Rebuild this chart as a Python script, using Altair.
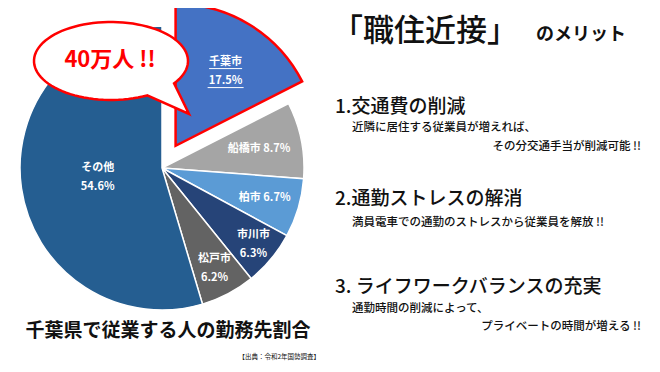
import math
import altair as alt
import numpy as np
import pandas as pd

# ---------------- data ----------------
categories = ["千葉市", "船橋市", "柏市", "市川市", "松戸市", "その他"]
shares = [17.5, 8.7, 6.7, 6.3, 6.2, 54.6]
colors = ["#4472C4", "#A5A5A5", "#5B9BD5", "#264478", "#636363", "#255E91"]
highlight = "千葉市"

bubble_text = "40万人 !!"
chart_title = "千葉県で従業する人の勤務先割合"
source_text = "【出典：令和2年国勢調査】"
heading_main = "「職住近接」"
heading_sub = "のメリット"
points = ["1.交通費の削減", "2.通勤ストレスの解消", "3. ライフワークバランスの充実"]
details_left = ["近隣に居住する従業員が増えれば、", "満員電車での通勤のストレスから従業員を解放 !!", "通勤時間の削減によって、"]
details_right = ["その分交通手当が削減可能 !!", "", "プライベートの時間が増える !!"]

# ---------------- layout ----------------
FONT = "Noto Sans CJK JP"
OX, OY = 8, 8                     # page margin
CX, CY = 162 - OX, 168 - OY       # pie centre
R = 142
EXPLODE = 26
LH = 19
label_sep = ["\n", " ", " ", "\n", "\n", "\n"]
label_r = [116, 99, 107, 119, 113, 65]
label_lines = [2, 1, 1, 2, 2, 2]
label_dx = [3, 0, 0, 0, 0, 0]
label_dy = [2.5, 0, 0, 0, 0, 0]

df = pd.DataFrame({"cat": categories, "share": shares})
df["end"] = df["share"].cumsum()
df["start"] = df["end"] - df["share"]
df["mid"] = (df["start"] + df["end"]) / 2
df["label"] = [f"{c}{s}{v}%" for c, s, v in zip(categories, label_sep, shares)]
df["r"] = label_r
df["lines"] = label_lines

theta_scale = alt.Scale(domain=[0, 100], range=[0, 2 * math.pi])
color_scale = alt.Scale(domain=categories, range=colors)

hl_idx = categories.index(highlight)
hl_mid = float(df.loc[df.cat == highlight, "mid"].iloc[0]) / 100 * 2 * math.pi
EX = CX + EXPLODE * math.sin(hl_mid)
EY = CY - EXPLODE * math.cos(hl_mid)

pie = alt.Chart(df).transform_filter(alt.datum.cat != highlight).mark_arc(
    outerRadius=R, stroke="white", strokeWidth=1.5
).encode(
    theta=alt.Theta("start:Q", scale=theta_scale, stack=None),
    theta2="end:Q",
    color=alt.Color("cat:N", scale=color_scale, legend=None),
    x=alt.value(CX), y=alt.value(CY),
)

pie_hl = alt.Chart(df).transform_filter(alt.datum.cat == highlight).mark_arc(
    outerRadius=R, stroke="#FF0000", strokeWidth=2.5, strokeJoin="miter"
).encode(
    theta=alt.Theta("start:Q", scale=theta_scale, stack=None),
    theta2="end:Q",
    color=alt.Color("cat:N", scale=color_scale, legend=None),
    x=alt.value(EX), y=alt.value(EY),
)

label_layers = []
for i, cat in enumerate(categories):
    dy = label_dy[i] - (LH / 2 if label_lines[i] == 2 else 0)
    label_layers.append(
        alt.Chart(df).transform_filter(alt.datum.cat == cat).mark_text(
            color="white", font=FONT, fontSize=11, fontWeight="bold",
            lineBreak="\n", lineHeight=LH, baseline="middle", align="center",
            dx=label_dx[i], dy=dy
        ).encode(
            theta=alt.Theta("mid:Q", scale=theta_scale, stack=None),
            radius=alt.Radius("r:Q", scale=None),
            text="label:N",
            x=alt.value(CX), y=alt.value(CY),
        )
    )

# underline for highlighted label
hl_r = float(df.loc[df.cat == highlight, "r"].iloc[0])
LX = CX + hl_r * math.sin(hl_mid) + label_dx[hl_idx]
LY = CY - hl_r * math.cos(hl_mid) + label_dy[hl_idx]
underlines = []
for dy, half in [(-LH / 2 + 6.5, 16.5), (LH / 2 + 6.5, 18)]:
    underlines.append(
        alt.Chart(pd.DataFrame({"a": [0]})).mark_rule(color="white", strokeWidth=1).encode(
            x=alt.value(LX - half), x2=alt.value(LX + half), y=alt.value(LY + dy)
        )
    )

# speech bubble as custom symbol path (unit coords, scaled by size)
S = 80.0
rx, ry = 77 / S, 39 / S
ts = np.deg2rad(np.linspace(62, 395, 90))
pts = [(rx * math.cos(t), ry * math.sin(t)) for t in ts]
tip = (78 / S, 53 / S)
path = "M" + " L".join(f"{x:.4f},{y:.4f}" for x, y in pts) + f" L{tip[0]:.4f},{tip[1]:.4f} Z"
BX, BY = 111 - OX, 61 - OY
bubble = alt.Chart(pd.DataFrame({"a": [0]})).mark_point(
    shape=path, size=(2 * S) ** 2, filled=True, fill="white", stroke="#FF0000",
    strokeWidth=2.5, opacity=1, fillOpacity=1, strokeOpacity=1
).encode(x=alt.value(BX), y=alt.value(BY))


def txt(s, x, y, size, weight="normal", align="left", color="#111111"):
    return alt.Chart(pd.DataFrame({"t": [s]})).mark_text(
        font=FONT, fontSize=size, fontWeight=weight, align=align,
        baseline="middle", color=color
    ).encode(text="t:N", x=alt.value(x - OX), y=alt.value(y - OY))


texts = [
    txt(bubble_text, 110, 60, 22, "bold", "center", "#FF0000"),
    txt(chart_title, 168, 331, 19, "bold", "center"),
    txt(source_text, 320, 357, 6.5, "normal", "right"),
    txt(heading_main, 332, 32, 31, 500),
    txt(heading_sub, 536, 35, 18, "bold"),
]
pt_y = [107, 199, 287]
dl_y = [128, 223, 309]
dr_y = [147, 0, 327]
for i in range(3):
    texts.append(txt(points[i], 335, pt_y[i], 19, 500))
    texts.append(txt(details_left[i], 352, dl_y[i], 11.5, 500))
    if details_right[i]:
        texts.append(txt(details_right[i], 641, dr_y[i], 11.5, 500, "right"))

chart = alt.layer(pie, pie_hl, *label_layers, *underlines, bubble, *texts).properties(
    width=644, height=356, autosize="none", padding=0, background="white"
).configure_view(stroke=None)

chart.save("out.html", embed_options={"renderer": "svg", "actions": False})
